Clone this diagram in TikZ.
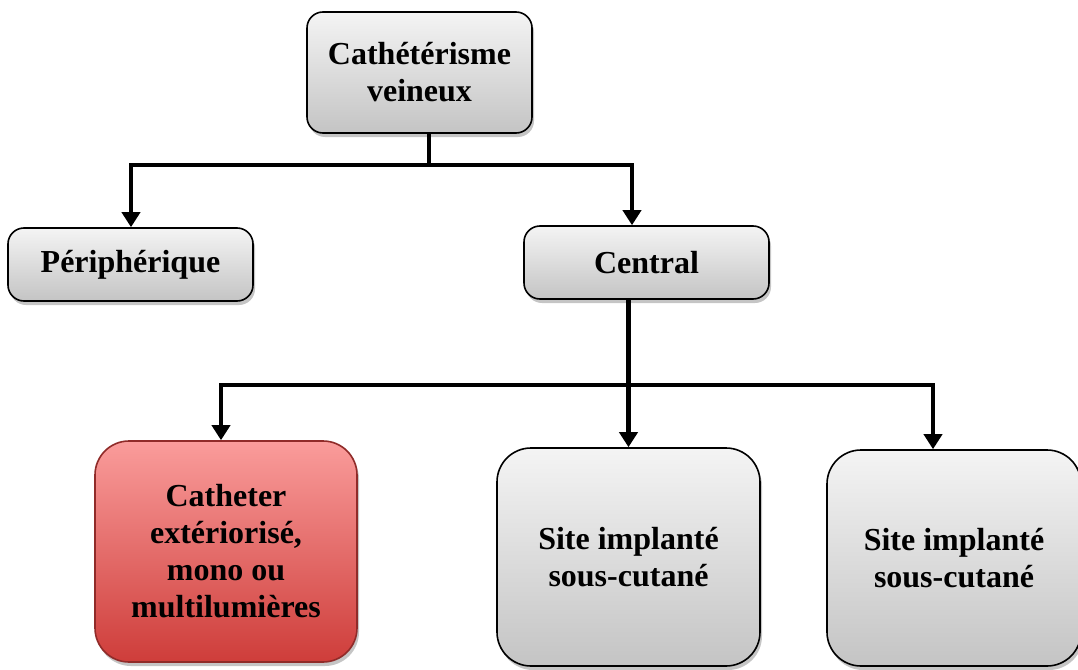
\documentclass[tikz,border=0pt]{standalone}
\usepackage{fontspec}
\setmainfont{Liberation Serif}
\usetikzlibrary{arrows.meta,shadows}
\definecolor{gtop}{HTML}{F4F4F4}
\definecolor{gbot}{HTML}{C4C4C4}
\definecolor{rtop}{HTML}{FA9C9B}
\definecolor{rbot}{HTML}{CE3D3A}
\begin{document}
\begin{tikzpicture}[x=1pt,y=-1pt,
  box/.style={draw=black, line width=1.6pt, rounded corners=16pt,
    top color=gtop, bottom color=gbot,
    drop shadow={shadow xshift=2pt, shadow yshift=-4pt, opacity=0.45},
    align=center, inner sep=0pt,
    font=\fontsize{32}{37}\selectfont\bfseries},
  bigbox/.style={box, rounded corners=34pt},
  redbox/.style={bigbox, draw=rbot!70!black, top color=rtop, bottom color=rbot},
  conn/.style={line width=4.2pt, draw=black},
  arr/.style={conn, -{Triangle[width=18pt,length=15pt]}}]
\clip (0,0) rectangle (1078,669);
\fill[white] (0,0) rectangle (1078,669);

\node[box, minimum width=225pt, minimum height=121pt] (top) at (419.5,72.5) {Cathétérisme\\veineux};
\node[box, minimum width=245pt, minimum height=73pt] (peri) at (130.5,264.5) {Périphérique};
\node[box, minimum width=245pt, minimum height=73pt] (cent) at (646.5,262.5) {Central};
\node[redbox, minimum width=262pt, minimum height=221pt] (cath) at (226,551.5) {Catheter\\extériorisé,\\mono ou\\multilumières};
\node[bigbox, minimum width=263pt, minimum height=218pt] (site1) at (628.5,557) {Site implanté\\sous-cutané};
\node[bigbox, minimum width=254pt, minimum height=216pt] (site2) at (954,558) {Site implanté\\sous-cutané};

\coordinate (h1L) at (131,165);
\coordinate (h1R) at (632,165);
\coordinate (h2L) at (221,385);
\coordinate (h2R) at (933,385);

\draw[conn] ([xshift=9.5pt]top.south) -- ([xshift=9.5pt]top.south |- h1L);
\draw[arr] (h1R) -- (h1L) -- (h1L |- peri.north);
\draw[arr] (h1L) -- (h1R) -- (h1R |- cent.north);

\draw[arr] ([xshift=-18pt]cent.south) -- ([xshift=-18pt]cent.south |- site1.north);
\draw[arr] (h2R) -- (h2L) -- (h2L |- cath.north);
\draw[arr] (h2L) -- (h2R) -- (h2R |- site2.north);
\end{tikzpicture}
\end{document}
